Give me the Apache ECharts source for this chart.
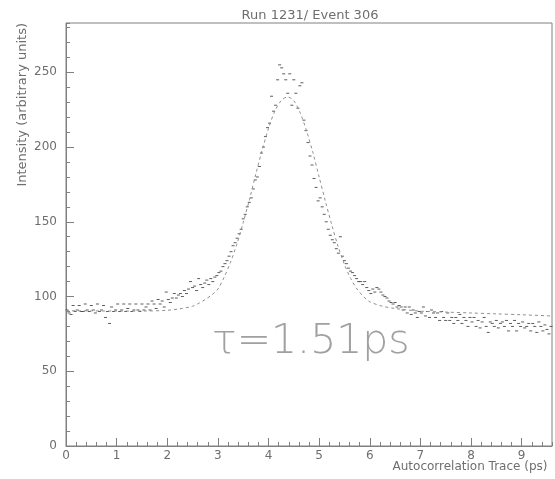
<!DOCTYPE html>
<html><head><meta charset="utf-8">
<script src="https://cdn.jsdelivr.net/npm/echarts/dist/echarts.min.js"></script>
<style>html,body{margin:0;padding:0;background:#fff}#c{width:555px;height:479px}</style>
</head><body><div id="c"></div>
<script>
const titleText = 'Run 1231/ Event 306';
const xAxisName = 'Autocorrelation Trace (ps)';
const yAxisName = 'Intensity (arbitrary units)';
const annotation = 'τ=1.51ps';

// measured trace: first delay and delay step (ps)
const traceStart = 0.02;
const traceStep = 0.04;
const intensity = [
  91,89,88,94,90,91,94,90,90,95,91,90,94,91,89,95,90,91,94,86,90,82,93,90,91,
  95,90,91,95,90,92,95,90,91,95,91,90,95,91,93,95,91,97,95,92,98,95,97,93,103,
  98,96,99,102,99,101,102,100,104,102,105,110,106,107,104,112,108,106,109,111,108,112,110,113,114,
  116,117,120,122,124,127,130,134,136,139,142,145,152,155,160,163,166,172,178,180,187,196,200,207,213,
  216,234,224,228,245,255,253,249,245,236,249,228,245,236,226,241,243,218,211,203,194,188,179,173,164,
  166,160,155,150,145,141,138,136,132,129,140,127,124,122,119,117,116,114,112,110,110,108,110,106,104,
  102,105,103,106,105,103,101,100,99,97,96,95,96,93,94,93,91,93,89,93,88,91,89,86,90,
  89,93,87,90,86,91,89,86,89,84,90,86,84,89,84,86,82,86,84,88,82,86,84,80,86,
  83,86,80,84,79,83,86,80,76,83,82,80,84,79,82,83,80,84,77,82,80,84,77,82,80,
  83,79,80,82,77,82,80,76,83,80,77,81,78,75,80
];

// fitted curve
const fitX = [0,0.5,1,1.5,2,2.25,2.5,2.625,2.75,2.875,3,3.125,3.25,3.375,3.5,3.625,3.75,3.875,4,4.125,4.25,4.375,4.5,4.625,4.75,4.875,5,5.125,5.25,5.375,5.5,5.625,5.75,5.875,6,6.25,6.5,6.75,7,7.5,8,8.5,9,9.6];
const fitY = [90.5,90.4,90.3,90.3,90.8,91.8,93.5,95.5,98,101,105,113,123,135,149.5,165,182,198,212.5,224,231,233.5,231,223,211,196.5,180,163.5,148,133.5,121.5,112,105,100,96.5,93.5,92,91,90.2,89.6,89,88.4,87.8,87];

const xMin = 0, xMax = 9.6, xMajor = 1, xMinor = 0.2;
const yMin = 0, yMax = 283, yMajor = 50, yMinor = 10;

const axisColor = '#808080';
const textColor = '#6e6e6e';

const chart = echarts.init(document.getElementById('c'), null, {renderer: 'canvas'});
chart.setOption({
  animation: false,
  backgroundColor: '#fff',
  title: {
    text: titleText, left: 305, top: 4, textAlign: 'center',
    textStyle: {color: textColor, fontSize: 13, fontWeight: 'normal', fontFamily: 'DejaVu Sans'}
  },
  grid: {left: 66, right: 3, top: 23, bottom: 33, containLabel: false, outerBoundsMode: 'none',
         show: true, borderColor: axisColor, borderWidth: 1},
  xAxis: [{
    type: 'value', min: xMin, max: xMax, interval: xMajor,
    name: xAxisName, nameLocation: 'middle', nameGap: 15, nameMoveOverlap: false,
    nameTextStyle: {color: textColor, fontSize: 12, fontFamily: 'DejaVu Sans', align: 'center', verticalAlign: 'top', padding: [0,0,0,322]},
    axisLine: {lineStyle: {color: axisColor, width: 1}},
    axisTick: {inside: true, length: 8, lineStyle: {color: axisColor}},
    axisLabel: {color: textColor, fontSize: 12, fontFamily: 'DejaVu Sans', margin: 4, showMaxLabel: false},
    splitLine: {show: false}
  }, {
    type: 'value', min: xMin, max: xMax, interval: xMinor, position: 'bottom',
    axisLine: {show: false},
    axisTick: {inside: true, length: 4, lineStyle: {color: axisColor}},
    axisLabel: {show: false}, splitLine: {show: false}
  }],
  yAxis: [{
    type: 'value', min: yMin, max: yMax, interval: yMajor,
    name: yAxisName, nameLocation: 'end', nameRotate: 90, nameGap: 0, nameMoveOverlap: false,
    nameTextStyle: {color: textColor, fontSize: 13, fontFamily: 'DejaVu Sans', align: 'right', verticalAlign: 'bottom', padding: [0,0,37,0]},
    axisLine: {lineStyle: {color: axisColor, width: 1}},
    axisTick: {inside: true, length: 8, lineStyle: {color: axisColor}},
    axisLabel: {color: textColor, fontSize: 12, fontFamily: 'DejaVu Sans', margin: 9, showMaxLabel: false},
    splitLine: {show: false}
  }, {
    type: 'value', min: yMin, max: yMax, interval: yMinor, position: 'left',
    axisLine: {show: false},
    axisTick: {inside: true, length: 4, lineStyle: {color: axisColor}},
    axisLabel: {show: false}, splitLine: {show: false}
  }],
  series: [{
    type: 'line', xAxisIndex: 0, yAxisIndex: 0,
    data: fitX.map((x, i) => [x, fitY[i]]),
    smooth: 0.3, showSymbol: false, silent: true,
    lineStyle: {color: '#909090', width: 1, type: [3, 3]}
  }, {
    type: 'scatter', xAxisIndex: 0, yAxisIndex: 0,
    data: intensity.map((v, i) => [traceStart + i * traceStep, v]),
    symbol: 'rect', symbolSize: [3, 1],
    itemStyle: {color: '#333'}
  }],
  graphic: [{
    type: 'text', left: 212, top: 322,
    style: {text: annotation, fill: '#a0a0a0', font: '200 41px "DejaVu Sans"'}
  }]
});
</script>
</body></html>
